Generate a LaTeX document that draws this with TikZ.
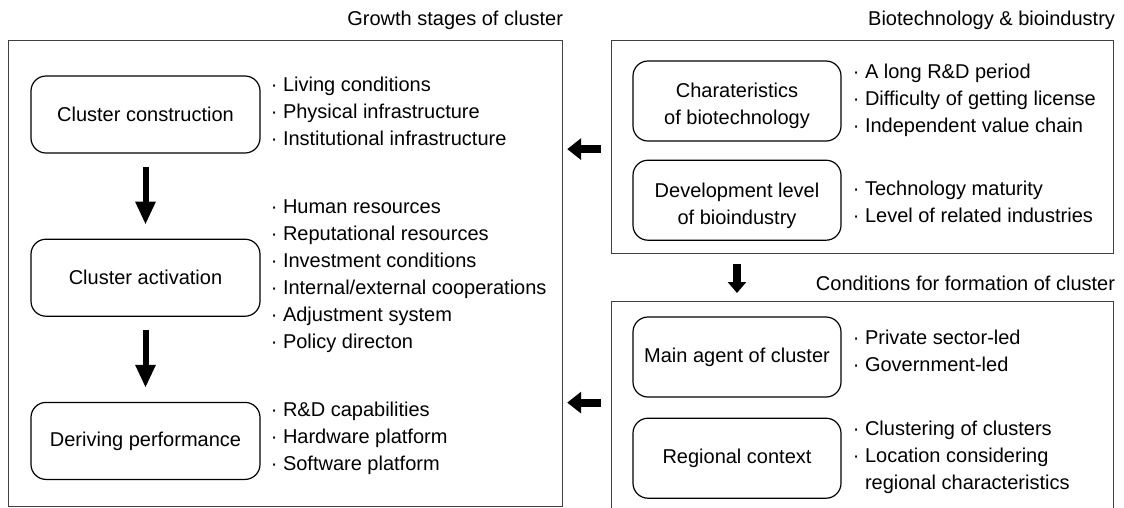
\documentclass[tikz,border=0pt]{standalone}
\usepackage{fontspec}
\setmainfont{Liberation Sans}
\usetikzlibrary{positioning,arrows.meta}

% taller first line, pushes two-line box text down a little
\newcommand{\lowstrut}{\rule{0pt}{25pt}}

\begin{document}
\begin{tikzpicture}[
    x=1pt, y=-1pt,
    node distance=85pt and 10pt,
    every node/.style={font=\fontsize{20}{27}\selectfont, inner sep=0pt},
    frame/.style={rectangle, draw=black!75, line width=1.2pt, anchor=north west},
    box/.style={rectangle, draw, rounded corners=15pt, line width=1.2pt, align=center, minimum height=77pt},
    leftbox/.style={box, minimum width=229pt},
    rightbox/.style={box, minimum width=208pt, minimum height=80pt},
    items/.style={align=left, anchor=west},
    heading/.style={anchor=base east},
    downarrow/.style={-{Triangle[width=19pt,length=23pt]}, line width=6pt},
    smallarrow/.style={-{Triangle[width=18pt,length=11pt]}, line width=8pt},
    sidearrow/.style={-{Triangle[width=21pt,length=14pt]}, line width=8pt}
]
    \useasboundingbox[fill=white] (0,0) rectangle (1124,507);

    % outer frames
    \node[frame, minimum width=554pt, minimum height=466pt] (growth) at (8,40) {};
    \node[frame, minimum width=502pt, minimum height=213pt] (bio) at (611,40) {};
    \node[frame, minimum width=502pt, minimum height=208pt] (cond) at (611,301) {};

    \node[heading] (growthtitle) at ([yshift=15pt]growth.north east) {Growth stages of cluster};
    \node[heading] (biotitle) at ([xshift=1pt,yshift=15pt]bio.north east) {Biotechnology \& bioindustry};
    \node[heading] (condtitle) at ([xshift=1pt,yshift=11pt]cond.north east) {Conditions for formation of cluster};

    % growth stages
    \node[leftbox] (construct) at (145.5,114.5) {Cluster construction};
    \node[leftbox, below=of construct] (activate) {Cluster activation};
    \node[leftbox, below=of activate] (perform) {Deriving performance};

    \node[items] (constructlist) at ([xshift=10pt,yshift=3pt]construct.east) {%
        · Living conditions\\
        · Physical infrastructure\\
        · Institutional infrastructure};
    \node[items] (activatelist) at ([xshift=10pt,yshift=2pt]activate.east) {%
        · Human resources\\
        · Reputational resources\\
        · Investment conditions\\
        · Internal/external cooperations\\
        · Adjustment system\\
        · Policy directon};
    \node[items] (performlist) at ([xshift=10pt,yshift=3pt]perform.east) {%
        · R\&D capabilities\\
        · Hardware platform\\
        · Software platform};

    % biotechnology and bioindustry
    \node[rightbox] (charac) at (737,101) {\lowstrut Charateristics\\of biotechnology};
    \node[rightbox, below=18pt of charac] (devel) {\lowstrut Development level\\of bioindustry};

    \node[items] (characlist) at ([xshift=11pt,yshift=1pt]charac.east) {%
        · A long R\&D period\\
        · Difficulty of getting license\\
        · Independent value chain};
    \node[items] (devellist) at ([xshift=11pt,yshift=-2pt]devel.east) {%
        · Technology maturity\\
        · Level of related industries};

    % conditions for formation
    \node[rightbox] (agent) at (737,357) {Main agent of cluster};
    \node[rightbox, below=20pt of agent] (region) {Regional context};

    \node[items] (agentlist) at ([xshift=11pt,yshift=6pt]agent.east) {%
        · Private sector-led\\
        · Government-led};
    \node[items] (regionlist) at ([xshift=11pt,yshift=1pt]region.east) {%
        · Clustering of clusters\\
        · Location considering\\
        \hphantom{· }regional characteristics};

    % arrows
    \draw[downarrow, shorten <=13pt, shorten >=14pt] (construct) -- (activate);
    \draw[downarrow, shorten <=13pt, shorten >=14pt] (activate) -- (perform);
    \draw[smallarrow, shorten <=10pt, shorten >=8pt] (bio.south -| charac) -- (cond.north -| charac);
    \draw[sidearrow, shorten <=10pt, shorten >=4pt] ([yshift=-2pt]bio.west) -- ([yshift=-2pt]bio.west -| growth.east);
    \draw[sidearrow, shorten <=10pt, shorten >=4pt] ([yshift=3pt]cond.west) -- ([yshift=3pt]cond.west -| growth.east);
\end{tikzpicture}
\end{document}
